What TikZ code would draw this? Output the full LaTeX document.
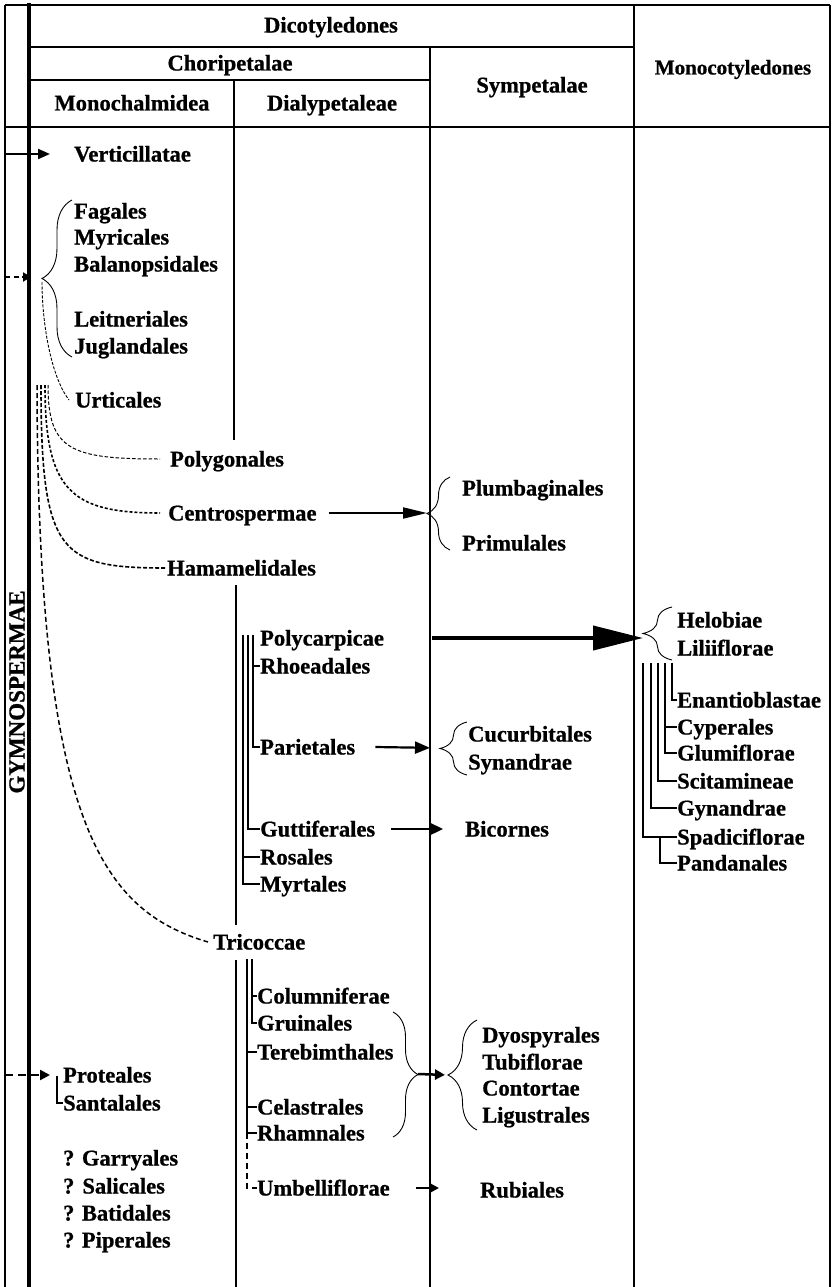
\documentclass[tikz,border=0pt]{standalone}
\usepackage{fontspec}
\setmainfont{Liberation Serif}[BoldFeatures={FakeBold=0.8}]
\usetikzlibrary{arrows.meta,decorations.pathreplacing,calc}
\begin{document}
\begin{tikzpicture}[x=1pt,y=-1pt,
  lbl/.style={font=\bfseries\fontsize{22.5}{26}\selectfont,inner sep=0pt,
    text height=15pt,text depth=0pt,anchor=west},
  hdr/.style={lbl,anchor=center},
  rule/.style={line width=2pt},
  hairrule/.style={line width=1.2pt},
  bar/.style={line width=2pt},
  curly/.style={line width=0.9pt,decorate,decoration={brace,amplitude=#1}},
]
\fill[white] (0,0) rectangle (836,1287);
\useasboundingbox (0,0) rectangle (836,1287);

% ---- table frame ----
\draw[hairrule] (5,1287) -- (5,5);
\draw[rule] (5,5) -- (830,5);
\draw[line width=1.3pt] (830,5) -- (830,1287);
\draw[line width=3.2pt] (29,3) -- (29,1287);
\draw[rule] (29,47) -- (634,47);
\draw[rule] (29,80) -- (430,80);
\draw[rule] (5,127) -- (830,127);
\draw[rule] (234,80) -- (234,440);
\draw[rule] (236,585) -- (236,925);
\draw[rule] (236,960) -- (236,1287);
\draw[rule] (430,47) -- (430,1287);
\draw[line width=2.4pt] (634,5) -- (634,1287);

% ---- headings ----
\node[hdr] (dico)   at (331,25)  {Dicotyledones};
\node[hdr] (chori)  at (230,63)  {Choripetalae};
\node[hdr] (monoch) at (132,103) {Monochalmidea};
\node[hdr] (dialy)  at (332,103) {Dialypetaleae};
\node[hdr] (sympet) at (532,85)  {Sympetalae};
\node[hdr,font=\bfseries\fontsize{21}{24}\selectfont] (monoco) at (733,67) {Monocotyledones};
\node[hdr,rotate=90,font=\bfseries\fontsize{23}{26}\selectfont] (gymno) at (17,692) {GYMNOSPERMAE};

% ---- Monochalmideae column ----
\node[lbl] (verti) at (74,154) {Verticillatae};
\node[lbl] (fag)   at (74,211) {Fagales};
\node[lbl] (myr)   at (74,237) {Myricales};
\node[lbl] (bal)   at (74,264) {Balanopsidales};
\node[lbl] (leit)  at (74,319) {Leitneriales};
\node[lbl] (jug)   at (74,346) {Juglandales};
\node[lbl] (urt)   at (75,400) {Urticales};
\node[lbl] (polyg) at (170,459) {Polygonales};
\node[lbl] (centro) at (168,513) {Centrospermae};
\node[lbl] (hama)  at (167,568) {Hamamelidales};
\node[lbl] (trico) at (213,942) {Tricoccae};
\node[lbl] (prote) at (63,1075) {Proteales};
\node[lbl] (santa) at (63,1103) {Santalales};
\node[lbl] (garry) at (63,1158) {? Garryales};
\node[lbl] (salic) at (63,1186) {?\hspace{8pt}Salicales};
\node[lbl] (batid) at (63,1213) {? Batidales};
\node[lbl] (piper) at (63,1240) {? Piperales};

% ---- Dialypetaleae column ----
\node[lbl] (polyc)  at (260,638) {Polycarpicae};
\node[lbl] (rhoe)   at (260,666) {Rhoeadales};
\node[lbl] (pariet) at (260,747) {Parietales};
\node[lbl] (gutti)  at (260,829) {Guttiferales};
\node[lbl] (rosal)  at (260,857) {Rosales};
\node[lbl] (myrt)   at (260,884) {Myrtales};
\node[lbl] (colum)  at (257,996) {Columniferae};
\node[lbl] (gruin)  at (257,1023) {Gruinales};
\node[lbl] (tereb)  at (257,1052) {Terebimthales};
\node[lbl] (celas)  at (257,1107) {Celastrales};
\node[lbl] (rhamn)  at (257,1133) {Rhamnales};
\node[lbl] (umbel)  at (257,1188) {Umbelliflorae};

% ---- Sympetalae column ----
\node[lbl] (plumb) at (462,488) {Plumbaginales};
\node[lbl] (primu) at (462,543) {Primulales};
\node[lbl] (cucur) at (468,734) {Cucurbitales};
\node[lbl] (synan) at (468,762) {Synandrae};
\node[lbl] (bicor) at (465,829) {Bicornes};
\node[lbl] (dyosp) at (482,1035) {Dyospyrales};
\node[lbl] (tubif) at (482,1062) {Tubiflorae};
\node[lbl] (conto) at (482,1088) {Contortae};
\node[lbl] (ligus) at (482,1115) {Ligustrales};
\node[lbl] (rubia) at (480,1190) {Rubiales};

% ---- Monocotyledones column ----
\node[lbl] (helob) at (677,620) {Helobiae};
\node[lbl] (lilii) at (677,648) {Liliiflorae};
\node[lbl] (enant) at (677,700) {Enantioblastae};
\node[lbl] (cyper) at (677,727) {Cyperales};
\node[lbl] (glumi) at (677,753) {Glumiflorae};
\node[lbl] (scita) at (677,781) {Scitamineae};
\node[lbl] (gynan) at (677,808) {Gynandrae};
\node[lbl] (spadi) at (677,837) {Spadiciflorae};
\node[lbl] (panda) at (677,863) {Pandanales};

% ---- braces and their tips ----
\draw[curly=30] (72,357) -- (72,200);
\coordinate (fagtip) at (42,278);
\draw[curly=23] (450,550) -- (450,477);
\coordinate (plumtip) at (427,513);
\draw[curly=27] (467,775) -- (467,722);
\coordinate (cuctip) at (440,748);
\draw[curly=29] (672,660) -- (672,607);
\coordinate (heltip) at (643,634);
\draw[curly=25] (393,1012) -- (393,1137);
\coordinate (trbtip) at (418,1074);
\draw[curly=29] (477,1130) -- (477,1020);
\coordinate (dyotip) at (448,1075);

% ---- left margin arrows ----
\coordinate (gymV) at (5,154);
\coordinate (gymF) at (5,277);
\coordinate (gymFend) at (31,277);
\coordinate (gymP) at (5,1075);
\draw[line width=2pt,-{Triangle[length=12pt,width=10pt]}] (gymV) -- ([xshift=-24pt]verti.west);
\draw[line width=2.4pt,dash pattern=on 5pt off 3.5pt,-{Triangle[length=8pt,width=9pt]}] (gymF) -- (gymFend);
\draw[line width=2.2pt,dash pattern=on 8pt off 5pt,-{Triangle[length=10pt,width=10pt]}] (gymP) -- ([xshift=-13pt]prote.west);

% ---- dashed descent lines ----
\draw[line width=0.9pt,dash pattern=on 3pt off 1.5pt]
  ([yshift=-4pt]fagtip) .. controls (42,320) and (50,375) .. ([xshift=-6pt]urt.west);
\draw[line width=1pt,dash pattern=on 3.5pt off 2pt]
  (48,385) .. controls (48,450) and (70,459) .. ([xshift=-10pt]polyg.west);
\draw[line width=1.6pt,dash pattern=on 3pt off 2pt]
  (45,385) .. controls (45,490) and (70,513) .. ([xshift=-8pt]centro.west);
\draw[line width=1.6pt,dash pattern=on 4pt off 2pt]
  (41,385) .. controls (41,555) and (60,568) .. (hama.west);
\draw[line width=1.5pt,dash pattern=on 5pt off 3pt]
  (37,385) .. controls (38,820) and (100,910) .. ([xshift=-5pt]trico.west);

% ---- arrows between columns ----
\draw[line width=2pt,-{Triangle[length=24pt,width=11pt]}] ([xshift=12pt]centro.east) -- (plumtip);
\coordinate (pcstart) at (432,638);
\draw[line width=4pt,-{Triangle[length=50pt,width=24pt]}] (pcstart) -- (pcstart -| heltip);
\draw[line width=2.2pt,-{Triangle[length=15pt,width=12pt]},shorten >=10pt] ([xshift=20pt]pariet.east) -- (cuctip);
\draw[line width=2.2pt,-{Triangle[length=14pt,width=13pt]}] ([xshift=16pt]gutti.east) -- ([xshift=-22pt]bicor.west);
\draw[line width=2.5pt,-{Triangle[length=10pt,width=10pt]},shorten >=3pt] (trbtip) -- (dyotip);
\coordinate (rubarr) at (439,1188);
\draw[line width=2.5pt,-{Triangle[length=10pt,width=10pt]}] ([xshift=26pt]umbel.east) -- (rubarr);

% ---- Polycarpicae bracket lines ----
\coordinate (pcA) at (253,635);
\coordinate (pcB) at (248,635);
\coordinate (pcC) at (243,635);
\draw[bar] (pcA) |- (pariet.west);
\draw[bar] (rhoe.west -| pcA) -- (rhoe.west);
\draw[bar] (pcB) |- (gutti.west);
\draw[bar] (pcC) |- (myrt.west);
\draw[bar] (rosal.west -| pcC) -- (rosal.west);

% ---- Tricoccae bracket lines ----
\coordinate (tcA) at (252,959);
\coordinate (tcB) at (247,959);
\draw[bar] (tcA) |- (gruin.west);
\draw[bar] (colum.west -| tcA) -- (colum.west);
\draw[line width=2.6pt] (tcB) |- (rhamn.west);
\draw[bar] (tereb.west -| tcB) -- (tereb.west);
\draw[bar] (celas.west -| tcB) -- (celas.west);
\draw[line width=1.5pt,dash pattern=on 6pt off 4pt] (rhamn.west -| tcB) |- (umbel.west);

% ---- Proteales bracket ----
\coordinate (prA) at (57,1076);
\draw[line width=1.2pt] (prA) |- (santa.west);

% ---- Monocotyledones bracket lines ----
\coordinate (mcA) at (672,663);
\coordinate (mcB) at (665,663);
\coordinate (mcC) at (658,663);
\coordinate (mcD) at (651,663);
\coordinate (mcE) at (643,663);
\coordinate (mcF) at (660,663);
\draw[bar] (mcA) |- (enant.west);
\draw[bar] (mcB) |- (glumi.west);
\draw[bar] (cyper.west -| mcB) -- (cyper.west);
\draw[bar] (mcC) |- (scita.west);
\draw[bar] (mcD) |- (gynan.west);
\draw[bar] (mcE) |- (spadi.west);
\draw[bar] (spadi.west -| mcF) |- (panda.west);
\end{tikzpicture}
\end{document}
